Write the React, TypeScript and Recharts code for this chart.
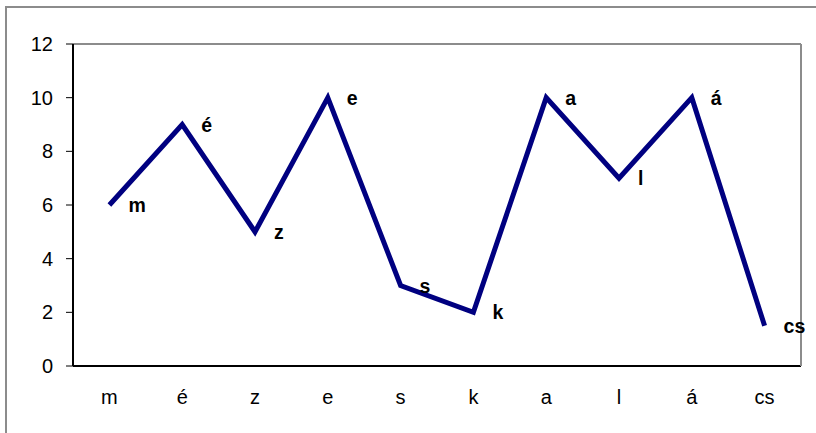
import React from "react";
import { LineChart, Line, XAxis, YAxis, CartesianGrid, ReferenceLine } from "recharts";

const categories = ["m", "é", "z", "e", "s", "k", "a", "l", "á", "cs"];
const values = [6, 9, 5, 10, 3, 2, 10, 7, 10, 1.5];
const yTicks = [0, 2, 4, 6, 8, 10, 12];

const data = categories.map((c, i) => ({ cat: c, v: values[i] }));

const FONT = "'Liberation Sans', Arial, sans-serif";

const PointLabel = (props: any) => {
  const { x, y, index } = props;
  return (
    <text x={x + 19} y={y + 7} fontFamily={FONT} fontSize={19.5} fontWeight="bold" fill="#000" textAnchor="start">
      {categories[index]}
    </text>
  );
};

export default function App() {
  return (
    <div style={{ position: "absolute", left: 0, top: 0, width: 816, height: 433, background: "#fff", overflow: "hidden" }}>
      <div style={{ position: "absolute", left: 5, top: 6, width: 830, height: 450, border: "2px solid #8c8c8c", boxSizing: "border-box" }} />
      <div style={{ position: "absolute", left: 0, top: 0 }}>
        <LineChart width={816} height={433} data={data} margin={{ top: 44, right: 0, bottom: 0, left: 0 }}>
          <CartesianGrid vertical={false} stroke="#c8c8c8" strokeWidth={1.5} />
          <XAxis
            dataKey="cat"
            height={67}
            padding={{ left: 36.4, right: 36.4 }}
            tickLine={false}
            tickSize={0}
            tickMargin={24}
            axisLine={{ stroke: "#000", strokeWidth: 2 }}
            tick={{ fontFamily: FONT, fontSize: 20, fill: "#000" }}
          />
          <YAxis
            yAxisId="left"
            domain={[0, 12]}
            ticks={yTicks}
            width={73}
            tickSize={7}
            tickMargin={13}
            axisLine={{ stroke: "#000", strokeWidth: 2 }}
            tickLine={{ stroke: "#000" }}
            tick={{ fontFamily: FONT, fontSize: 20, fill: "#000" }}
          />
          <YAxis
            yAxisId="right"
            orientation="right"
            domain={[0, 12]}
            width={15}
            tick={false}
            tickLine={false}
            axisLine={{ stroke: "#8c8c8c", strokeWidth: 2 }}
          />
          <ReferenceLine yAxisId="left" y={12} stroke="#8c8c8c" strokeWidth={2} />
          <Line
            yAxisId="left"
            type="linear"
            dataKey="v"
            stroke="#000080"
            strokeWidth={5}
            dot={false}
            isAnimationActive={false}
            label={<PointLabel />}
          />
        </LineChart>
      </div>
    </div>
  );
}
